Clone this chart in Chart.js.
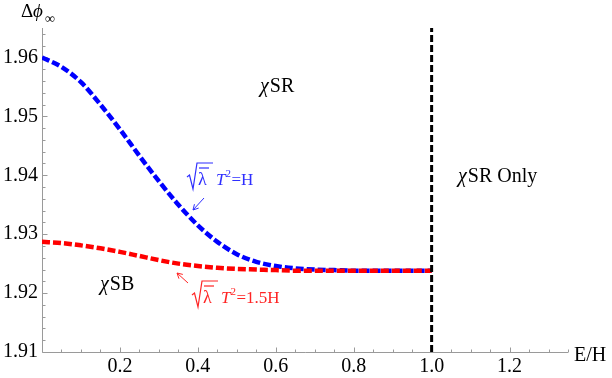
<!DOCTYPE html>
<html>
<head>
<meta charset="utf-8">
<script src="https://cdn.jsdelivr.net/npm/chart.js@4.4.1/dist/chart.umd.min.js"></script>
<style>
  html, body { margin: 0; padding: 0; background: #fff; }
  #wrap { width: 612px; height: 378px; }
</style>
</head>
<body>
<div id="wrap"><canvas id="chart" width="612" height="378"></canvas></div>
<script>
// E/H values shared by both curves
var xValues = [0, 0.05, 0.10, 0.15, 0.20, 0.25, 0.30, 0.35, 0.40, 0.45, 0.50,
               0.55, 0.60, 0.65, 0.70, 0.75, 0.80, 0.85, 0.90, 0.95, 1.00];
// sqrt(lambda) T^2 = H
var blueValues = [1.9600, 1.9584, 1.9558, 1.9520, 1.9478, 1.9433, 1.9390, 1.9350, 1.9315, 1.9287, 1.9266,
                  1.9253, 1.9246, 1.9242, 1.9240, 1.9239, 1.9238, 1.9238, 1.9238, 1.9238, 1.9238];
// sqrt(lambda) T^2 = 1.5H
var redValues = [1.9287, 1.9285, 1.9281, 1.9276, 1.9270, 1.9263, 1.9256, 1.9250, 1.9246, 1.9243, 1.9241,
                 1.9240, 1.9239, 1.9238, 1.9238, 1.9238, 1.9238, 1.9238, 1.9238, 1.9238, 1.9238];
// boundary E/H = 1
var boundaryX = [1.0, 1.0];
var boundaryY = [1.91, 1.965];

var xTicks = [0.2, 0.4, 0.6, 0.8, 1.0, 1.2];
var xTickLabels = ['0.2', '0.4', '0.6', '0.8', '1.0', '1.2'];
var yTicks = [1.91, 1.92, 1.93, 1.94, 1.95, 1.96];
var yTickLabels = ['1.91', '1.92', '1.93', '1.94', '1.95', '1.96'];

var SERIF = '"Liberation Serif", "DejaVu Serif", serif';

function toPoints(xs, ys) {
    return xs.map(function (x, i) { return { x: x, y: ys[i] }; });
}

function arrow(ctx, x1, y1, x2, y2, color) {
    // line from (x1,y1) to head at (x2,y2)
    var a = Math.atan2(y2 - y1, x2 - x1), h = 6;
    ctx.strokeStyle = color;
    ctx.lineWidth = 1;
    ctx.beginPath();
    ctx.moveTo(x1, y1);
    ctx.lineTo(x2, y2);
    ctx.moveTo(x2 - h * Math.cos(a - 0.5), y2 - h * Math.sin(a - 0.5));
    ctx.lineTo(x2, y2);
    ctx.lineTo(x2 - h * Math.cos(a + 0.5), y2 - h * Math.sin(a + 0.5));
    ctx.stroke();
}

function sqrtLabel(ctx, x, b, color, rhs) {
    ctx.strokeStyle = color;
    ctx.fillStyle = color;
    ctx.lineWidth = 1.2;
    // radical sign with bar over lambda
    ctx.beginPath();
    ctx.moveTo(x, b - 8);
    ctx.lineTo(x + 2.5, b - 10);
    ctx.lineTo(x + 6, b + 4);
    ctx.lineTo(x + 10, b - 22);
    ctx.lineTo(x + 26, b - 22);
    ctx.stroke();
    ctx.beginPath();
    ctx.moveTo(x + 12, b - 17);
    ctx.lineTo(x + 22, b - 17);
    ctx.stroke();
    ctx.textAlign = 'left';
    ctx.textBaseline = 'alphabetic';
    ctx.font = '18px ' + SERIF;
    ctx.fillText('\u03bb', x + 11, b);
    ctx.font = 'italic 17px ' + SERIF;
    ctx.fillText('T', x + 29, b);
    var tx = x + 29 + ctx.measureText('T').width;
    ctx.font = '11px ' + SERIF;
    ctx.fillText('2', tx, b - 8);
    ctx.font = '17px ' + SERIF;
    ctx.fillText(rhs, tx + 6, b);
}

var axesPlugin = {
    id: 'axesPlugin',
    beforeDatasetsDraw: function (chart) {
        var ctx = chart.ctx, xs = chart.scales.x, ys = chart.scales.y;
        var left = Math.round(xs.left) + 0.5, bottom = Math.round(ys.bottom) + 0.5;
        ctx.save();
        ctx.strokeStyle = '#9a9a9a';
        ctx.lineWidth = 1;
        ctx.beginPath();
        ctx.moveTo(left, ys.top);
        ctx.lineTo(left, bottom);
        ctx.lineTo(xs.right, bottom);
        // inward ticks on the x axis, every 0.05
        for (var i = 1; i <= 27; i++) {
            var v = i * 0.05;
            var px = Math.round(xs.getPixelForValue(v)) + 0.5;
            var len = (i % 4 === 0) ? 5 : 3;
            ctx.moveTo(px, bottom);
            ctx.lineTo(px, bottom - len);
        }
        // inward ticks on the y axis, every 0.002
        for (var j = 0; j <= 27; j++) {
            var w = 1.91 + j * 0.002;
            var py = Math.round(ys.getPixelForValue(w)) + 0.5;
            var l2 = (j % 5 === 0) ? 5 : 3;
            ctx.moveTo(left, py);
            ctx.lineTo(left + l2, py);
        }
        ctx.stroke();
        ctx.restore();
    },
    afterDatasetsDraw: function (chart) {
        var ctx = chart.ctx;
        ctx.save();
        ctx.fillStyle = '#000';
        ctx.textAlign = 'left';
        ctx.textBaseline = 'alphabetic';

        // axis titles
        ctx.font = '19px ' + SERIF;
        ctx.fillText('\u0394', 21, 17);
        ctx.font = 'italic 19px ' + SERIF;
        ctx.fillText('\u03d5', 33, 17);
        ctx.font = '14px ' + SERIF;
        ctx.fillText('\u221e', 45, 23);
        ctx.font = '20px ' + SERIF;
        ctx.fillText('E/H', 574, 361);

        // region labels
        function chiLabel(text, x, b) {
            ctx.font = 'italic 20px ' + SERIF;
            ctx.fillText('\u03c7', x, b);
            var w = ctx.measureText('\u03c7').width;
            ctx.font = '20px ' + SERIF;
            ctx.fillText(text, x + w + 1, b);
        }
        chiLabel('SR', 260, 92);
        chiLabel('SR Only', 458, 182);
        chiLabel('SB', 100, 290);

        // curve labels
        sqrtLabel(ctx, 187, 185, '#2f2fff', '=H');
        arrow(ctx, 204, 198, 193, 210, '#2f2fff');
        sqrtLabel(ctx, 192, 303, '#ff2424', '=1.5H');
        arrow(ctx, 188, 283, 177, 273, '#ff2424');
        ctx.restore();
    }
};

new Chart(document.getElementById('chart'), {
    type: 'line',
    data: {
        datasets: [{
            label: 'boundary',
            data: toPoints(boundaryX, boundaryY),
            borderColor: '#000',
            borderWidth: 3,
            borderDash: [7, 3],
            pointRadius: 0,
            fill: false,
            order: 0
        }, {
            label: '1.5H',
            data: toPoints(xValues, redValues),
            borderColor: '#ff0000',
            borderWidth: 4.5,
            borderDash: [8, 3],
            pointRadius: 0,
            cubicInterpolationMode: 'monotone',
            fill: false,
            order: 1
        }, {
            label: 'H',
            data: toPoints(xValues, blueValues),
            borderColor: '#0000ff',
            borderWidth: 4.5,
            borderDash: [8, 3],
            pointRadius: 0,
            cubicInterpolationMode: 'monotone',
            fill: false,
            order: 2
        }]
    },
    options: {
        responsive: false,
        animation: false,
        devicePixelRatio: 1,
        layout: { padding: { left: 0, right: 44, top: 28, bottom: 0 } },
        plugins: { legend: { display: false }, tooltip: { enabled: false } },
        scales: {
            x: {
                type: 'linear',
                min: 0,
                max: 1.35,
                grid: { display: false, drawTicks: false },
                border: { display: false },
                afterBuildTicks: function (scale) {
                    scale.ticks = xTicks.map(function (v) { return { value: v }; });
                },
                afterFit: function (scale) { scale.height = 26; },
                ticks: {
                    autoSkip: false,
                    maxRotation: 0,
                    padding: 3,
                    color: '#000',
                    font: { family: SERIF, size: 20 },
                    callback: function (value, index) { return xTickLabels[index]; }
                }
            },
            y: {
                type: 'linear',
                min: 1.91,
                max: 1.965,
                grid: { display: false, drawTicks: false },
                border: { display: false },
                afterBuildTicks: function (scale) {
                    scale.ticks = yTicks.map(function (v) { return { value: v }; });
                },
                afterFit: function (scale) { scale.width = 42; },
                ticks: {
                    autoSkip: false,
                    padding: 4,
                    color: '#000',
                    font: { family: SERIF, size: 20 },
                    callback: function (value, index) { return yTickLabels[index]; }
                }
            }
        }
    },
    plugins: [axesPlugin]
});
</script>
</body>
</html>
